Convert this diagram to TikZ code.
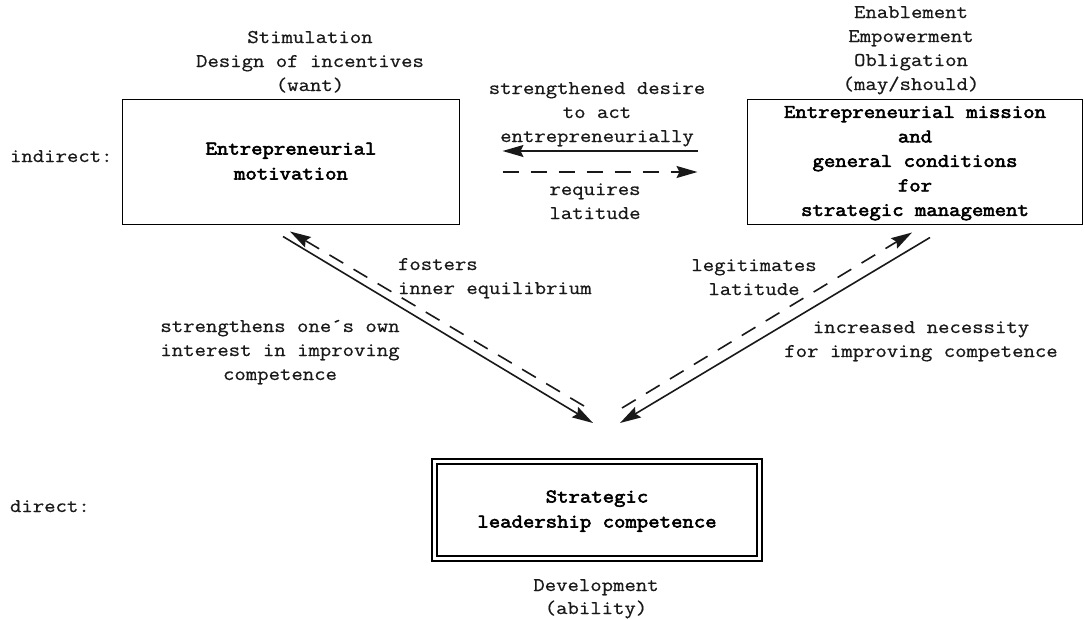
\documentclass[tikz,border=0pt]{standalone}
\usepackage{fontspec}
\newfontfamily\boxface{Latin Modern Mono}[FakeStretch=1.14, FakeBold=3]
\newfontfamily\typeface{Latin Modern Mono}[FakeStretch=1.14, FakeBold=0.7]
\usetikzlibrary{arrows.meta}

% typewriter face for the plain labels, widened to Courier proportions
\newcommand\labelface{\typeface\fontsize{19.4}{24}\selectfont}
% multi-line text whose baseline is that of its first line
\newcommand\txtlines[2][c]{\begin{tabular}[t]{@{}#1@{}}#2\end{tabular}}
% multi-line text centred vertically inside a box
\newcommand\boxlines[1]{\begin{tabular}{@{}c@{}}#1\end{tabular}}

\begin{document}
\begin{tikzpicture}[x=1pt,y=-1pt,
  every node/.style={inner sep=0pt, outer sep=0pt},
  lbl/.style={font=\labelface, anchor=base, text=black!90},
  box/.style={draw, line width=1.6pt, text=black,
    font=\boxface\fontsize{19.4}{25}\selectfont},
  link/.style={line width=1.6pt, draw=black!90,
    -{Stealth[length=21pt,width=12pt,inset=3pt]}},
  dlink/.style={link, dash pattern=on 16pt off 12pt},
]
\useasboundingbox (0,0) rectangle (1085,619);

% ---- the three boxes ----
\node[box, minimum width=337pt, minimum height=125pt] (mot) at (291,162)
  {\boxlines{Entrepreneurial\\motivation}};
\node[box, minimum width=335pt, minimum height=125pt,
      font=\boxface\fontsize{19.4}{24.5}\selectfont] (mission) at (915,162)
  {\boxlines{Entrepreneurial mission\\and\\general conditions\\for\\strategic management}};
\node[box, double, line width=1.4pt, double distance=3.5pt,
      minimum width=325pt, minimum height=97pt] (comp) at (597,510)
  {\boxlines{Strategic\\leadership competence}};

% ---- level labels ----
\node[lbl, anchor=base west] (ind) at (10,162) {indirect:};
\node[lbl, anchor=base west] (dir) at (10,512) {direct:};

% ---- texts above and below the boxes ----
\node[lbl] (stim) at (310,43) {\txtlines{Stimulation\\Design of incentives\\(want)}};
\node[lbl] (enab) at (911,18) {\txtlines{Enablement\\Empowerment\\Obligation\\(may/should)}};
\node[lbl] (devel) at (596,591) {\txtlines{Development\\[-1pt](ability)}};

% ---- connector labels ----
\node[lbl] (desire) at (597,94) {\txtlines{strengthened desire\\to act\\entrepreneurially}};
\node[lbl] (latreq) at (595,195) {\txtlines{requires\\latitude}};
\node[lbl, anchor=base west] (fost) at (398,270) {\txtlines[l]{fosters\\inner equilibrium}};
\node[lbl] (own) at (280,332) {\txtlines{strengthens one´s own\\interest in improving\\competence}};
\node[lbl] (legit) at (754,271) {\txtlines{legitimates\\latitude}};
\node[lbl] (necess) at (921,333) {\txtlines{increased necessity\\for improving competence}};

% ---- horizontal connectors between the upper boxes ----
\draw[link, shorten <=50pt, shorten >=43pt]
  ([yshift=11pt]mission.west) -- ([yshift=11pt]mot.east);
\draw[dlink, shorten <=43pt, shorten >=50pt]
  ([yshift=-10pt]mot.east) -- ([yshift=-10pt]mission.west);

% ---- diagonal connectors to the competence box ----
\draw[link]  ([shift={(-8,12)}]mot.south) -- ([shift={(-4,-38.5)}]comp.north);
\draw[dlink] ([shift={(-13,-55.5)}]comp.north) -- ([shift={(-1,7)}]mot.south);
\draw[link]  ([shift={(15,13)}]mission.south) -- ([shift={(23,-38.5)}]comp.north);
\draw[dlink] ([shift={(25,-53.5)}]comp.north) -- ([shift={(-3,8)}]mission.south);
\end{tikzpicture}
\end{document}
